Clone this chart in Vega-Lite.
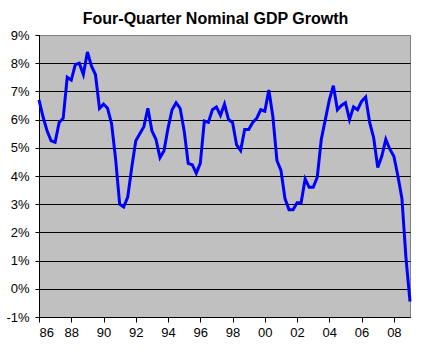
{
  "$schema": "https://vega.github.io/schema/vega-lite/v6.json",
  "width": 371,
  "height": 282,
  "autosize": {"type": "none"},
  "padding": {"left": 39, "top": 35, "right": 15, "bottom": 36},
  "background": "white",
  "title": {
    "text": "Four-Quarter Nominal GDP Growth",
    "font": "Liberation Sans",
    "fontSize": 16,
    "fontWeight": "bold",
    "color": "black",
    "anchor": "middle",
    "dx": -9,
    "offset": 2
  },
  "config": {
    "view": {"fill": "#C0C0C0", "stroke": "#808080", "strokeWidth": 1},
    "axis": {
      "labelFont": "Liberation Sans",
      "labelFontSize": 13,
      "labelColor": "black",
      "domainColor": "black",
      "tickColor": "black",
      "titleFont": "Liberation Sans"
    }
  },
  "data": {"values": [
      {"t": 1986.00, "g": 6.7}, {"t": 1986.25, "g": 6.1}, {"t": 1986.50, "g": 5.6}, {"t": 1986.75, "g": 5.25},
      {"t": 1987.00, "g": 5.2}, {"t": 1987.25, "g": 5.9}, {"t": 1987.50, "g": 6.05}, {"t": 1987.75, "g": 7.5},
      {"t": 1988.00, "g": 7.4}, {"t": 1988.25, "g": 7.95}, {"t": 1988.50, "g": 8.0}, {"t": 1988.75, "g": 7.6},
      {"t": 1989.00, "g": 8.4}, {"t": 1989.25, "g": 7.9}, {"t": 1989.50, "g": 7.6}, {"t": 1989.75, "g": 6.4},
      {"t": 1990.00, "g": 6.55}, {"t": 1990.25, "g": 6.4}, {"t": 1990.50, "g": 5.85}, {"t": 1990.75, "g": 4.6},
      {"t": 1991.00, "g": 3.0}, {"t": 1991.25, "g": 2.9}, {"t": 1991.50, "g": 3.25}, {"t": 1991.75, "g": 4.3},
      {"t": 1992.00, "g": 5.25}, {"t": 1992.25, "g": 5.5}, {"t": 1992.50, "g": 5.75}, {"t": 1992.75, "g": 6.4},
      {"t": 1993.00, "g": 5.6}, {"t": 1993.25, "g": 5.3}, {"t": 1993.50, "g": 4.65}, {"t": 1993.75, "g": 4.9},
      {"t": 1994.00, "g": 5.7}, {"t": 1994.25, "g": 6.35}, {"t": 1994.50, "g": 6.6}, {"t": 1994.75, "g": 6.4},
      {"t": 1995.00, "g": 5.6}, {"t": 1995.25, "g": 4.45}, {"t": 1995.50, "g": 4.4}, {"t": 1995.75, "g": 4.1},
      {"t": 1996.00, "g": 4.45}, {"t": 1996.25, "g": 5.95}, {"t": 1996.50, "g": 5.9}, {"t": 1996.75, "g": 6.35},
      {"t": 1997.00, "g": 6.45}, {"t": 1997.25, "g": 6.15}, {"t": 1997.50, "g": 6.55}, {"t": 1997.75, "g": 6.0},
      {"t": 1998.00, "g": 5.9}, {"t": 1998.25, "g": 5.1}, {"t": 1998.50, "g": 4.9}, {"t": 1998.75, "g": 5.65},
      {"t": 1999.00, "g": 5.65}, {"t": 1999.25, "g": 5.9}, {"t": 1999.50, "g": 6.05}, {"t": 1999.75, "g": 6.35},
      {"t": 2000.00, "g": 6.3}, {"t": 2000.25, "g": 7.05}, {"t": 2000.50, "g": 6.1}, {"t": 2000.75, "g": 4.55},
      {"t": 2001.00, "g": 4.2}, {"t": 2001.25, "g": 3.2}, {"t": 2001.50, "g": 2.8}, {"t": 2001.75, "g": 2.8},
      {"t": 2002.00, "g": 3.05}, {"t": 2002.25, "g": 3.05}, {"t": 2002.50, "g": 3.9}, {"t": 2002.75, "g": 3.6},
      {"t": 2003.00, "g": 3.6}, {"t": 2003.25, "g": 3.95}, {"t": 2003.50, "g": 5.3}, {"t": 2003.75, "g": 6.0},
      {"t": 2004.00, "g": 6.7}, {"t": 2004.25, "g": 7.2}, {"t": 2004.50, "g": 6.35}, {"t": 2004.75, "g": 6.5},
      {"t": 2005.00, "g": 6.6}, {"t": 2005.25, "g": 6.0}, {"t": 2005.50, "g": 6.45}, {"t": 2005.75, "g": 6.35},
      {"t": 2006.00, "g": 6.65}, {"t": 2006.25, "g": 6.8}, {"t": 2006.50, "g": 5.9}, {"t": 2006.75, "g": 5.35},
      {"t": 2007.00, "g": 4.3}, {"t": 2007.25, "g": 4.7}, {"t": 2007.50, "g": 5.3}, {"t": 2007.75, "g": 4.95},
      {"t": 2008.00, "g": 4.7}, {"t": 2008.25, "g": 4.0}, {"t": 2008.50, "g": 3.2}, {"t": 2008.75, "g": 1.1},
      {"t": 2009.00, "g": -0.45}
  ]},
  "mark": {"type": "line", "color": "#0000FF", "strokeWidth": 3, "interpolate": "linear"},
  "encoding": {
    "x": {
      "field": "t",
      "type": "quantitative",
      "scale": {"domain": [1986, 2009], "nice": false, "zero": false},
      "axis": {
        "title": null,
        "values": [1986, 1988, 1990, 1992, 1994, 1996, 1998, 2000, 2002, 2004, 2006, 2008],
        "labelExpr": "(datum.value % 100 < 10 ? '0' : '') + (datum.value % 100)",
        "grid": false,
        "tickSize": 5,
        "labelPadding": 4,
        "domainColor": "black"
      }
    },
    "y": {
      "field": "g",
      "type": "quantitative",
      "scale": {"domain": [-1, 9], "nice": false, "zero": false},
      "axis": {
        "title": null,
        "values": [-1, 0, 1, 2, 3, 4, 5, 6, 7, 8, 9],
        "labelExpr": "datum.value + '%'",
        "grid": true,
        "gridColor": {"condition": {"test": "datum.value >= 9", "value": "#808080"}, "value": "black"},
        "gridOpacity": 1,
        "gridWidth": 1,
        "tickSize": 4,
        "labelPadding": 6
      }
    }
  }
}
